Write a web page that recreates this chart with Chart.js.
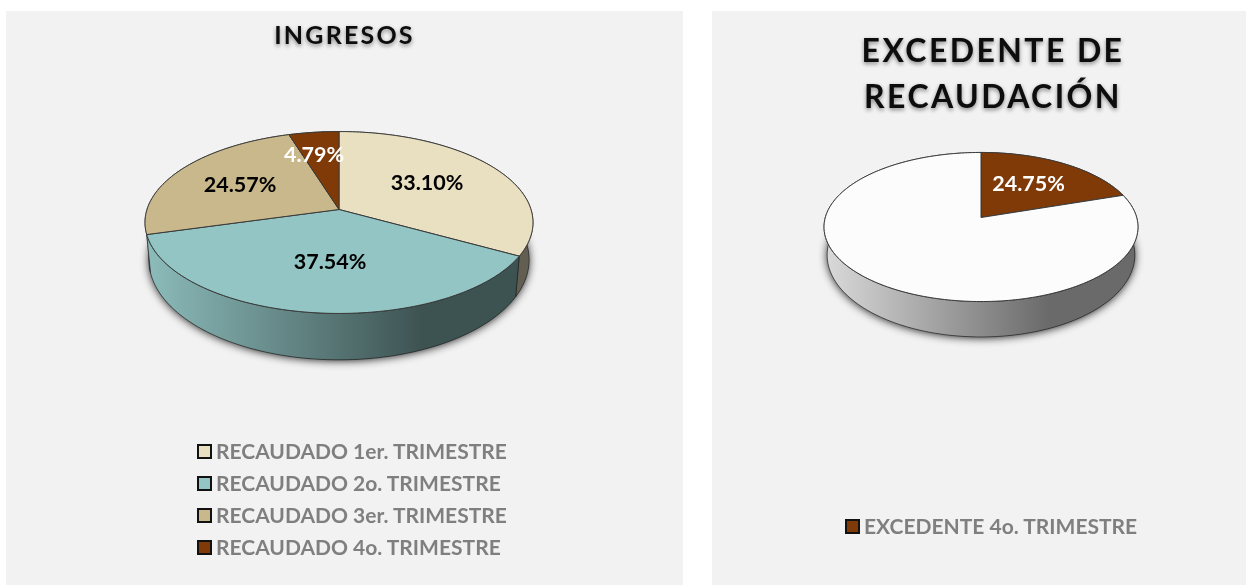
<!DOCTYPE html>
<html>
<head>
<meta charset="utf-8">
<script src="https://cdn.jsdelivr.net/npm/chart.js@4/dist/chart.umd.min.js"></script>
<style>
  html, body { margin: 0; padding: 0; background: #fff; width: 1246px; height: 585px; overflow: hidden; }
  .panel { position: absolute; top: 11px; height: 574px; background: #f2f2f2; }
  #panelLeft { left: 6px; width: 677px; }
  #panelRight { left: 712px; width: 534px; }
  canvas { position: absolute; top: 0; }
  .legend { position: absolute; font: bold 21px Lato, sans-serif; color: #7f7f7f; white-space: nowrap; }
  .legend div { height: 32px; line-height: 32px; display: flex; align-items: center; }
  .legend i { display: inline-block; width: 11px; height: 11px; border: 2px solid #111; margin-right: 4px; }
</style>
</head>
<body>
<div class="panel" id="panelLeft">
  <canvas id="ingresos" width="677" height="574" style="left:0"></canvas>
  <div class="legend" id="legendIngresos" style="left:191px;top:424px"></div>
</div>
<div class="panel" id="panelRight">
  <canvas id="excedente" width="506" height="574" style="left:28px"></canvas>
  <div class="legend" id="legendExcedente" style="left:133px;top:499px"></div>
</div>

<script>
// Datos
var ingresosCategories = ["RECAUDADO 1er. TRIMESTRE", "RECAUDADO 2o. TRIMESTRE", "RECAUDADO 3er. TRIMESTRE", "RECAUDADO 4o. TRIMESTRE"];
var ingresosValues = [33.10, 37.54, 24.57, 4.79];
var ingresosLabels = ["33.10%", "37.54%", "24.57%", "4.79%"];
var ingresosColors = ["#e9dfc1", "#92c5c4", "#c8b88b", "#803a07"];

// el corte dibujado en la imagen mide ~20%, aunque la etiqueta dice 24.75%
var excedenteCategories = ["EXCEDENTE 4o. TRIMESTRE", ""];
var excedenteValues = [19.9, 80.1];
var excedenteLabels = ["24.75%", ""];
var excedenteColors = ["#803a07", "#fcfcfc"];

function rgbOf(hex) {
  return [1, 3, 5].map(function(i) { return parseInt(hex.substr(i, 2), 16); });
}
function shade(hex, f) {
  var c = rgbOf(hex);
  return "rgb(" + c.map(function(v) { return Math.round(v * f); }).join(",") + ")";
}

// Tarta en perspectiva: usa los ángulos que calcula Chart.js para cada arco
var pie3d = {
  id: "pie3d",
  beforeDraw: function(chart) {
    // para el título
    var ctx = chart.ctx;
    ctx.letterSpacing = chart.options.plugins.pie3d.titleSpacing;
    ctx.shadowColor = "rgba(0,0,0,0.45)";
    ctx.shadowBlur = 4;
    ctx.shadowOffsetY = 2;
  },
  beforeDatasetsDraw: function(chart, args, o) {
    var ctx = chart.ctx;
    ctx.letterSpacing = "0px";
    ctx.shadowColor = "transparent";
    ctx.shadowBlur = 0;
    ctx.shadowOffsetY = 0;

    var meta = chart.getDatasetMeta(0);
    var arcs = meta.data;
    var dataset = chart.data.datasets[0];

    function project(el, angle, r, lower) {
      var u = Math.cos(angle) * r, v = Math.sin(angle) * r;
      var w = 1 - o.perspective * v;
      var X = el.outerRadius * u / w, Y = el.outerRadius * o.squash * v / w;
      var cx = el.x + o.shiftX;
      if (lower) return [cx + X * o.lowerX, el.y + o.depth + Y * o.lowerY];
      return [cx + X, el.y + Y];
    }
    function rim(el, a, b, lower) {
      var n = Math.max(2, Math.ceil(Math.abs(b - a) / 0.02)), pts = [];
      for (var i = 0; i <= n; i++) pts.push(project(el, a + (b - a) * i / n, 1, lower));
      return pts;
    }
    function trace(pts, start) {
      pts.forEach(function(p, i) {
        if (i === 0 && start) ctx.moveTo(p[0], p[1]); else ctx.lineTo(p[0], p[1]);
      });
    }

    var first = arcs[0];
    // sombra bajo el borde
    ctx.save();
    ctx.shadowColor = "rgba(0,0,0,0.85)";
    ctx.shadowBlur = 8;
    ctx.shadowOffsetY = 1;
    ctx.fillStyle = "#444";
    ctx.beginPath();
    trace(rim(first, 0, Math.PI * 2, true), true);
    ctx.closePath();
    ctx.fill();
    ctx.restore();

    // paredes, de atrás hacia delante
    var left = first.x + o.shiftX - first.outerRadius * o.lowerX * 1.01;
    var right = first.x + o.shiftX + first.outerRadius * o.lowerX * 1.01;
    var order = arcs.map(function(el, i) { return i; }).sort(function(a, b) {
      return Math.sin((arcs[a].startAngle + arcs[a].endAngle) / 2) - Math.sin((arcs[b].startAngle + arcs[b].endAngle) / 2);
    });
    order.forEach(function(i) {
      var el = arcs[i];
      var grad = ctx.createLinearGradient(left, 0, right, 0);
      grad.addColorStop(0, shade(dataset.backgroundColor[i], o.wallLight));
      grad.addColorStop(0.72, shade(dataset.backgroundColor[i], 0.42));
      grad.addColorStop(1, shade(dataset.backgroundColor[i], 0.42));
      ctx.beginPath();
      trace(rim(el, el.startAngle, el.endAngle, false), true);
      trace(rim(el, el.endAngle, el.startAngle, true), false);
      ctx.closePath();
      ctx.fillStyle = grad;
      ctx.fill();
      ctx.strokeStyle = "rgba(30,30,30,0.8)";
      ctx.lineWidth = 0.8;
      ctx.stroke();
    });

    // caras superiores
    arcs.forEach(function(el, i) {
      var c = project(el, 0, 0, false);
      ctx.beginPath();
      ctx.moveTo(c[0], c[1]);
      trace(rim(el, el.startAngle, el.endAngle, false), false);
      ctx.closePath();
      ctx.fillStyle = dataset.backgroundColor[i];
      ctx.fill();
      ctx.strokeStyle = "#3a3a3a";
      ctx.lineWidth = 1;
      ctx.stroke();
    });

    // etiquetas
    ctx.font = "bold 21.5px Lato, sans-serif";
    ctx.textAlign = "center";
    ctx.textBaseline = "middle";
    arcs.forEach(function(el, i) {
      var mid = (el.startAngle + el.endAngle) / 2 + o.labelTurn[i];
      var p = project(el, mid, o.labelRadius[i], false);
      ctx.fillStyle = o.labelColors[i];
      ctx.fillText(dataset.labels3d[i], p[0], p[1]);
    });
    return false;
  }
};

function makePie(id, categories, values, labels, colors, radius, title, titleFont, titleOpts, padding, opts3d) {
  return new Chart(document.getElementById(id), {
    type: "pie",
    data: {
      labels: categories,
      datasets: [{
        data: values,
        labels3d: labels,
        backgroundColor: colors,
        borderWidth: 0,
        radius: radius
      }]
    },
    options: {
      responsive: false,
      animation: false,
      layout: { padding: padding },
      plugins: {
        legend: { display: false },
        tooltip: { enabled: false },
        title: {
          display: true,
          text: title,
          color: "#0d0d0d",
          font: { family: "Lato", weight: "bold", size: titleFont, lineHeight: titleOpts.lineHeight },
          padding: { top: titleOpts.top, bottom: 0 }
        },
        pie3d: opts3d
      }
    },
    plugins: [pie3d]
  });
}

makePie("ingresos", ingresosCategories, ingresosValues, ingresosLabels, ingresosColors, 192,
  "INGRESOS", 25, { lineHeight: 1.2, top: 10 }, { bottom: 217 }, {
    perspective: 0.1429, squash: 0.464, depth: 36, lowerX: 0.98, lowerY: 1.1, wallLight: 0.95, shiftX: -5.5,
    labelRadius: [0.567, 0.55, 0.605, 0.68],
    labelTurn: [-0.035, -0.04, -0.015, -0.06],
    labelColors: ["#000", "#000", "#000", "#fff"],
    titleSpacing: "2.2px"
  });

makePie("excedente", excedenteCategories, excedenteValues, excedenteLabels, excedenteColors, 155.7,
  ["EXCEDENTE DE", "RECAUDACIÓN"], 32, { lineHeight: 1.4375, top: 18 }, { bottom: 271 }, {
    perspective: 0.1274, squash: 0.471, depth: 27, lowerX: 0.98, lowerY: 1.1, wallLight: 0.86, shiftX: -12,
    labelRadius: [0.578, 0],
    labelTurn: [-0.03, 0],
    labelColors: ["#fff", "#fff"],
    titleSpacing: "2.4px"
  });

// Leyendas en HTML
function makeLegend(id, categories, colors) {
  var box = document.getElementById(id);
  categories.forEach(function(name, i) {
    if (!name) return;
    var row = document.createElement("div");
    var mark = document.createElement("i");
    mark.style.background = colors[i];
    row.appendChild(mark);
    row.appendChild(document.createTextNode(name));
    box.appendChild(row);
  });
}
makeLegend("legendIngresos", ingresosCategories, ingresosColors);
makeLegend("legendExcedente", excedenteCategories, excedenteColors);
</script>
</body>
</html>
